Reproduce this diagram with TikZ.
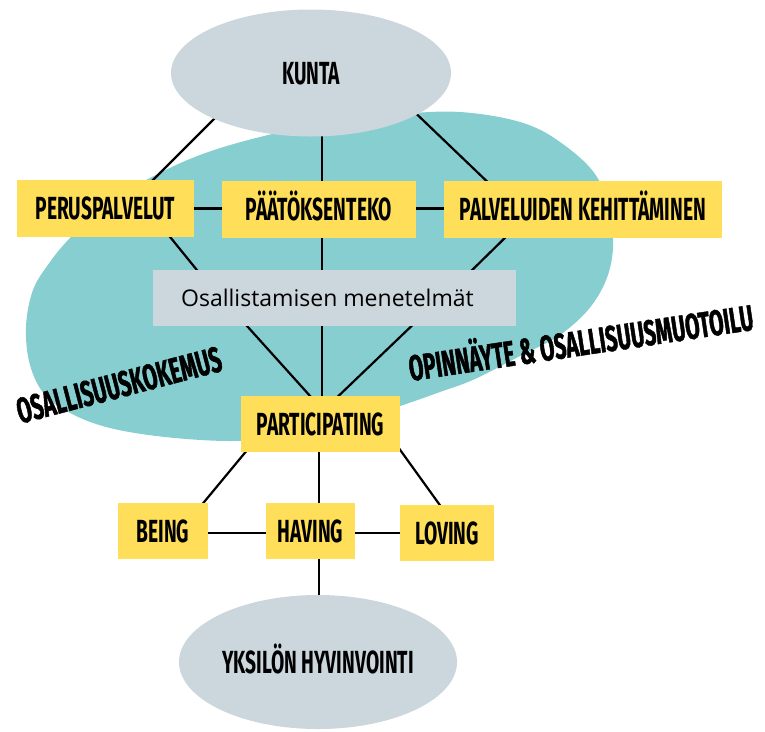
\documentclass[tikz,border=0pt]{standalone}
\usepackage{fontspec}
\usetikzlibrary{shapes.geometric,backgrounds,calc}
\newfontfamily\capsfont{Fira Sans}[FakeStretch=0.6]
\newfontfamily\tiltfont{Fira Sans}[FakeStretch=0.58,FakeBold=1.2]
\newfontfamily\plainfont{Open Sans}
\definecolor{boxyellow}{HTML}{FFDE59}
\definecolor{softgrey}{HTML}{CBD6DD}
\definecolor{tealblob}{HTML}{87CED1}
\tikzset{
  x=1pt, y=-1pt,
  capstext/.style={font=\capsfont\bfseries\fontsize{32}{33}\selectfont, text height=22pt, text depth=0pt},
  ybox/.style={capstext, rectangle, fill=boxyellow, inner sep=0pt, minimum height=57pt},
  gellipse/.style={capstext, ellipse, fill=softgrey, inner sep=0pt},
  gbox/.style={rectangle, fill=softgrey, inner sep=0pt, font=\plainfont\fontsize{23}{25}\selectfont},
  tilted/.style={font=\tiltfont\bfseries\fontsize{36}{37}\selectfont, inner sep=0pt, text height=25pt, text depth=0pt},
  link/.style={draw=black, line width=2.2pt}
}
\begin{document}
\begin{tikzpicture}
\useasboundingbox (0,0) rectangle (765,731);
% nodes
\node[gellipse, minimum width=280pt, minimum height=127pt] (kunta) at (311,73) {KUNTA};
\node[ybox, minimum width=177pt] (perus) at (105.5,208.5) {PERUSPALVELUT};
\node[ybox, minimum width=194pt] (paatos) at (319,209.5) {PÄÄTÖKSENTEKO};
\node[ybox, minimum width=278pt] (palvelu) at (583,209.5) {PALVELUIDEN KEHITTÄMINEN};
\node[gbox, minimum width=363pt, minimum height=56pt] (osal) at (334.5,298) {\hspace*{-14pt}Osallistamisen menetelmät};
\node[ybox, minimum width=159pt, minimum height=56pt] (part) at (320.5,424) {PARTICIPATING};
\node[ybox, minimum width=90pt, minimum height=56pt] (being) at (163,531) {BEING};
\node[ybox, minimum width=89pt, minimum height=56pt] (having) at (310.5,531) {HAVING};
\node[ybox, minimum width=94pt, minimum height=56pt] (loving) at (447,533) {LOVING};
\node[gellipse, minimum width=278pt, minimum height=134pt] (yksilo) at (318,662) {YKSILÖN HYVINVOINTI};
\node[tilted, rotate=14.7] (kokemus) at (119,385) {OSALLISUUSKOKEMUS};
\node[tilted, rotate=8.5] (opinnayte) at (581,343) {OPINNÄYTE \& OSALLISUUSMUOTOILU};
% background: blob and connectors
\begin{scope}[on background layer]
\fill[tealblob] plot[smooth cycle, tension=0.6] coordinates {
 (26,327) (33,290) (50,262) (70,238) (105,205) (150,178) (200,155) (260,137)
 (340,120) (400,114) (460,112) (520,122) (560,142) (597,177) (612,225) (610,268)
 (592,305) (560,335) (522,355) (475,379) (440,392) (400,406) (340,425) (280,437)
 (230,441) (165,437) (110,428) (72,414) (45,395) (30,365)};
\draw[link] ($(kunta.center)+(-85,34)$) -- ($(perus.center)+(37.5,-18.5)$);
\draw[link] ($(kunta.center)+(11,40)$) -- ($(paatos.center)+(3,-10)$);
\draw[link] ($(kunta.center)+(92,28)$) -- ($(palvelu.center)+(-86,-18.5)$);
\draw[link] ($(perus.center)+(60,0)$) -- ($(paatos.center)+(-60,-1)$);
\draw[link] ($(paatos.center)+(60,-1)$) -- ($(palvelu.center)+(-100,-1)$);
\draw[link] ($(perus.center)+(56.5,18.5)$) -- ($(osal.center)+(-129.5,-18)$);
\draw[link] ($(paatos.center)+(3,10)$) -- ($(osal.center)+(-12.5,-10)$);
\draw[link] ($(palvelu.center)+(-68,18.5)$) -- ($(osal.center)+(127.5,-18)$);
\draw[link] ($(osal.center)+(-96.5,18)$) -- ($(part.center)+(-0.5,-17)$);
\draw[link] ($(osal.center)+(-12.5,10)$) -- ($(part.center)+(1.5,-10)$);
\draw[link] ($(osal.center)+(87.5,18)$) -- ($(part.center)+(7.5,-18)$);
\draw[link] ($(part.center)+(-67.5,19)$) -- ($(being.center)+(32,-18)$);
\draw[link] ($(part.center)+(-1.8,10)$) -- ($(having.center)+(8.2,-10)$);
\draw[link] ($(part.center)+(72.5,16)$) -- ($(loving.center)+(0,-18)$);
\draw[link] ($(being.center)+(20,2)$) -- ($(having.center)+(-20,2)$);
\draw[link] ($(having.center)+(20,2)$) -- ($(loving.center)+(-20,0)$);
\draw[link] ($(having.center)+(8.2,10)$) -- ($(yksilo.center)+(0.7,-30)$);
\end{scope}
\end{tikzpicture}
\end{document}
